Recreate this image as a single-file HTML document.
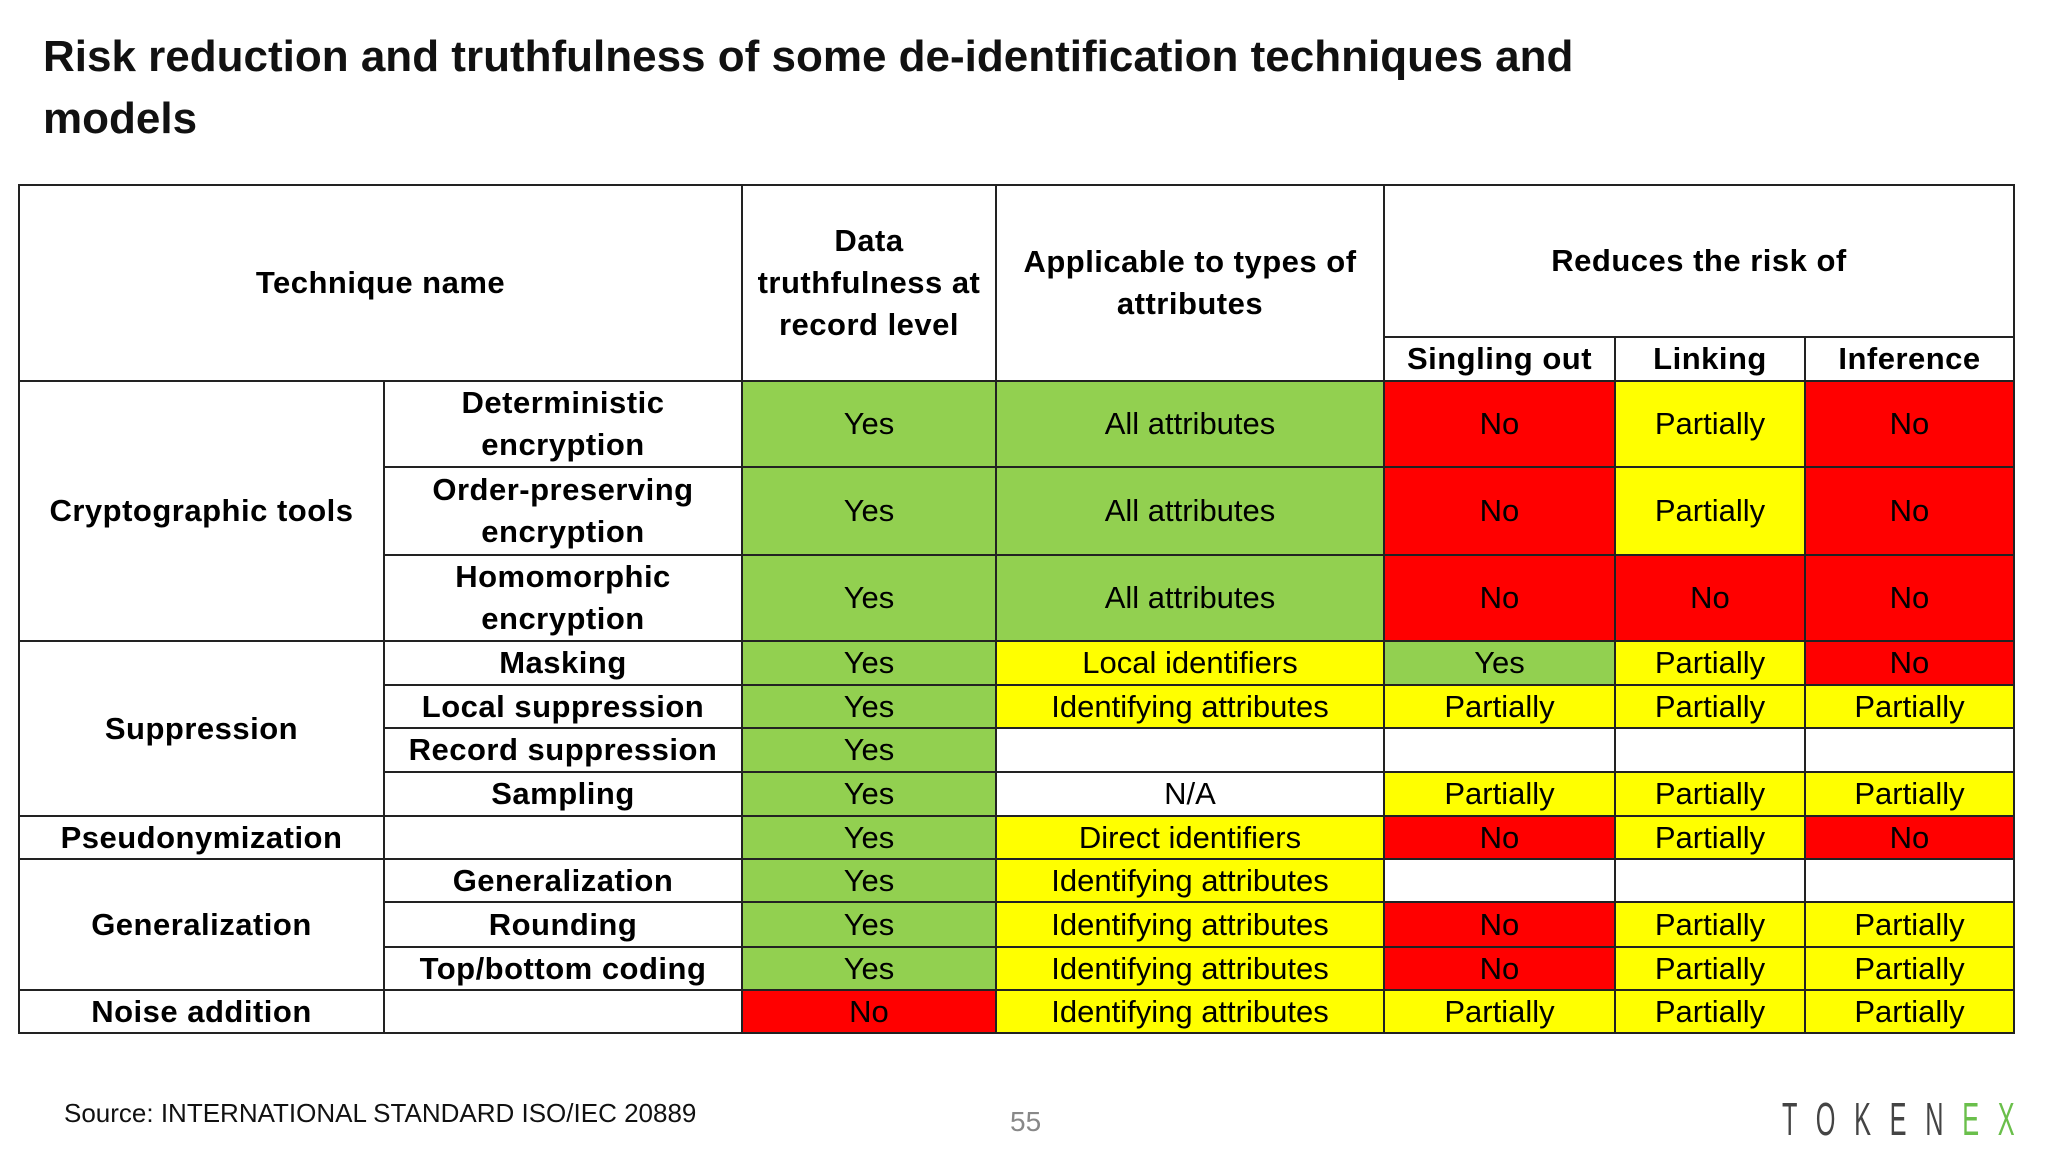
<!DOCTYPE html>
<html><head><meta charset="utf-8">
<style>
body{margin:0;width:2048px;height:1152px;background:#fff;position:relative;overflow:hidden;font-family:"Liberation Sans",Arial,sans-serif;}
.title{position:absolute;left:43px;top:26px;font-size:44px;font-weight:bold;line-height:62px;color:#111;font-family:"Liberation Sans",sans-serif;}
table{position:absolute;left:18px;top:184px;border-collapse:collapse;table-layout:fixed;}
td{border:2px solid #222;text-align:center;vertical-align:middle;padding:0;font-size:31px;line-height:36px;color:#000;overflow:hidden;white-space:nowrap;}
td.h{font-weight:bold;font-size:31px;letter-spacing:0.5px;}
td.two{line-height:42px;}
.g{background:#92d050}.y{background:#ffff00}.r{background:#ff0000}
.src{position:absolute;left:64px;top:1098px;font-size:26px;color:#111;}
.pg{position:absolute;left:1010px;top:1106px;font-size:28px;color:#888;}
.logo{position:absolute;left:1782px;top:1092px;font-size:46px;letter-spacing:34px;color:#444;transform:scaleX(0.55);transform-origin:left top;font-family:"Liberation Sans",sans-serif;}
.logo span{color:#6abf4b}
</style></head><body>
<div class="title">Risk reduction and truthfulness of some de-identification techniques and<br>models</div>
<table>
<colgroup><col style="width:365px"><col style="width:358px"><col style="width:254px"><col style="width:388px"><col style="width:231px"><col style="width:190px"><col style="width:209px"></colgroup>
<tr style="height:152px"><td class="h" colspan="2" rowspan="2">Technique name</td><td class="h two" rowspan="2">Data<br>truthfulness at<br>record level</td><td class="h two" rowspan="2">Applicable to types of<br>attributes</td><td class="h" colspan="3">Reduces the risk of</td></tr>
<tr style="height:44px"><td class="h">Singling out</td><td class="h">Linking</td><td class="h">Inference</td></tr>
<tr style="height:86px"><td class="h" rowspan="3">Cryptographic tools</td><td class="h two">Deterministic<br>encryption</td><td class="g">Yes</td><td class="g">All attributes</td><td class="r">No</td><td class="y">Partially</td><td class="r">No</td></tr>
<tr style="height:88px"><td class="h two">Order-preserving<br>encryption</td><td class="g">Yes</td><td class="g">All attributes</td><td class="r">No</td><td class="y">Partially</td><td class="r">No</td></tr>
<tr style="height:86px"><td class="h two">Homomorphic<br>encryption</td><td class="g">Yes</td><td class="g">All attributes</td><td class="r">No</td><td class="r">No</td><td class="r">No</td></tr>
<tr style="height:44px"><td class="h" rowspan="4">Suppression</td><td class="h">Masking</td><td class="g">Yes</td><td class="y">Local identifiers</td><td class="g">Yes</td><td class="y">Partially</td><td class="r">No</td></tr>
<tr style="height:43px"><td class="h">Local suppression</td><td class="g">Yes</td><td class="y">Identifying attributes</td><td class="y">Partially</td><td class="y">Partially</td><td class="y">Partially</td></tr>
<tr style="height:44px"><td class="h">Record suppression</td><td class="g">Yes</td><td></td><td></td><td></td><td></td></tr>
<tr style="height:44px"><td class="h">Sampling</td><td class="g">Yes</td><td>N/A</td><td class="y">Partially</td><td class="y">Partially</td><td class="y">Partially</td></tr>
<tr style="height:43px"><td class="h">Pseudonymization</td><td></td><td class="g">Yes</td><td class="y">Direct identifiers</td><td class="r">No</td><td class="y">Partially</td><td class="r">No</td></tr>
<tr style="height:43px"><td class="h" rowspan="3">Generalization</td><td class="h">Generalization</td><td class="g">Yes</td><td class="y">Identifying attributes</td><td></td><td></td><td></td></tr>
<tr style="height:45px"><td class="h">Rounding</td><td class="g">Yes</td><td class="y">Identifying attributes</td><td class="r">No</td><td class="y">Partially</td><td class="y">Partially</td></tr>
<tr style="height:43px"><td class="h">Top/bottom coding</td><td class="g">Yes</td><td class="y">Identifying attributes</td><td class="r">No</td><td class="y">Partially</td><td class="y">Partially</td></tr>
<tr style="height:43px"><td class="h">Noise addition</td><td></td><td class="r">No</td><td class="y">Identifying attributes</td><td class="y">Partially</td><td class="y">Partially</td><td class="y">Partially</td></tr>
</table>
<div class="src">Source: INTERNATIONAL STANDARD ISO/IEC 20889</div>
<div class="pg">55</div>
<div class="logo">TOKEN<span>EX</span></div>
</body></html>
